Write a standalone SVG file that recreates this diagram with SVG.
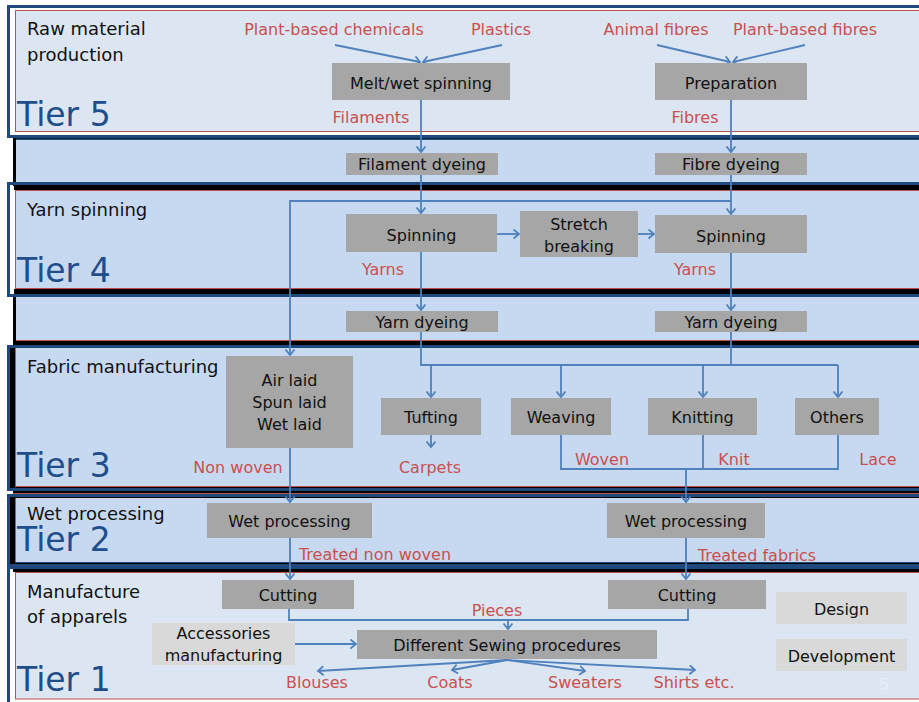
<svg xmlns="http://www.w3.org/2000/svg" width="919" height="702" viewBox="0 0 919 702">
<defs>
<style>
.node{fill:#a6a6a6}
.lnode{fill:#d9d9d9}
.t{font-family:"DejaVu Sans",Verdana,sans-serif;font-size:16px;fill:#111;text-anchor:middle}
.r{font-family:"DejaVu Sans",Verdana,sans-serif;font-size:16px;fill:#c9504f;text-anchor:middle}
.sec{font-family:"DejaVu Sans",Verdana,sans-serif;font-size:18px;fill:#111}
.tier{font-family:"DejaVu Sans",Verdana,sans-serif;font-size:33px;fill:#1f4e8c}
.c{fill:none;stroke:#4f81bd;stroke-width:1.8}
.a{marker-end:url(#arr)}
</style>
<marker id="arr" markerWidth="10" markerHeight="12" refX="6" refY="5" orient="auto" markerUnits="userSpaceOnUse">
<path d="M0.5,0.5 L6,5 L0.5,9.5" fill="none" stroke="#4f81bd" stroke-width="1.8"/>
</marker>
</defs>
<rect width="919" height="702" fill="#fff"/>
<g id="frames">
<!-- Tier 5 -->
<rect x="8.5" y="6.5" width="930" height="130" fill="#fff" stroke="#1f497d" stroke-width="3"/>
<rect x="15.5" y="10.5" width="920" height="121" fill="#dce6f2" stroke="#c0504d" stroke-width="1"/>
<!-- Band A -->
<rect x="13" y="138" width="925" height="52" fill="#000"/>
<rect x="16" y="138.5" width="920" height="1.5" fill="#1f497d"/>
<rect x="16" y="140" width="920" height="42" fill="#c6d9f1"/>
<!-- Tier 4 -->
<rect x="8.5" y="183.5" width="930" height="112" fill="none" stroke="#1f497d" stroke-width="3"/>
<rect x="10" y="186" width="4" height="102" fill="#fff"/>
<rect x="14" y="185" width="920" height="5" fill="#000"/>
<rect x="15.5" y="190.5" width="920" height="98" fill="#c6d9f1" stroke="#c0504d" stroke-width="1"/>
<rect x="14" y="289" width="920" height="5" fill="#000"/>
<!-- Band B -->
<rect x="13" y="297" width="925" height="49" fill="#000"/>
<rect x="16" y="297" width="920" height="43" fill="#c6d9f1"/>
<line x1="16" y1="340.5" x2="930" y2="340.5" stroke="#c0504d"/>
<!-- Tier 3 -->
<rect x="8.5" y="346.5" width="930" height="143" fill="#000" stroke="#1f497d" stroke-width="3"/>
<rect x="15" y="348" width="920" height="139" fill="#c6d9f1"/>
<line x1="15.5" y1="348" x2="15.5" y2="487" stroke="#c0504d"/>
<line x1="15" y1="486.5" x2="930" y2="486.5" stroke="#c0504d"/>
<rect x="13" y="491" width="925" height="4" fill="#000"/>
<line x1="13" y1="493.5" x2="930" y2="493.5" stroke="#c0504d"/>
<!-- Tier 2 -->
<rect x="8.5" y="495.5" width="930" height="70" fill="#000" stroke="#1f497d" stroke-width="3"/>
<rect x="15" y="498" width="920" height="64" fill="#c6d9f1"/>
<line x1="15.5" y1="498" x2="15.5" y2="562" stroke="#c0504d"/>
<line x1="15" y1="562.5" x2="930" y2="562.5" stroke="#1f497d"/>
<!-- Tier 1 -->
<rect x="8.5" y="567.5" width="930" height="140" fill="#fff" stroke="#1f497d" stroke-width="3"/>
<rect x="13" y="569" width="925" height="3" fill="#000"/>
<rect x="15.5" y="572.5" width="920" height="126.5" fill="#dce6f2" stroke="#c0504d" stroke-width="1"/>
</g>
<g id="tiers">
<text class="sec" x="27" y="35">Raw material</text>
<text class="sec" x="27" y="61">production</text>
<text class="tier" x="17" y="126">Tier 5</text>
<text class="sec" x="27" y="216">Yarn spinning</text>
<text class="tier" x="17" y="282">Tier 4</text>
<text class="sec" x="27" y="373">Fabric manufacturing</text>
<text class="tier" x="17" y="477">Tier 3</text>
<text class="sec" x="27" y="520">Wet processing</text>
<text class="tier" x="17" y="551">Tier 2</text>
<text class="sec" x="27" y="598">Manufacture</text>
<text class="sec" x="27" y="623">of apparels</text>
<text class="tier" x="17" y="691">Tier 1</text>
</g>
<g id="connectors">
<path class="c a" d="M335,45 L420,62"/>
<path class="c a" d="M502,45 L423,62"/>
<path class="c a" d="M657,45 L730,62"/>
<path class="c a" d="M805,45 L733,62"/>
<path class="c a" d="M421,100 V152"/>
<path class="c a" d="M731,100 V152"/>
<path class="c a" d="M421,175 V213"/>
<path class="c a" d="M731,175 V214"/>
<path class="c a" d="M731,201 H290 V355"/>
<path class="c a" d="M497,234 H519"/>
<path class="c a" d="M638,234 H654"/>
<path class="c a" d="M421,252 V310"/>
<path class="c a" d="M731,253 V310"/>
<path class="c" d="M421,332 V365 H838"/>
<path class="c" d="M731,332 V365"/>
<path class="c a" d="M431,365 V397"/>
<path class="c a" d="M561,365 V397"/>
<path class="c a" d="M703,365 V397"/>
<path class="c a" d="M838,365 V397"/>
<path class="c a" d="M431,435 V447"/>
<path class="c a" d="M290,448 V502"/>
<path class="c" d="M561,435 V469 H838 V435"/>
<path class="c" d="M703,435 V469"/>
<path class="c a" d="M686,469 V502"/>
<path class="c a" d="M290,538 V579"/>
<path class="c a" d="M686,538 V579"/>
<path class="c" d="M289,609 V620 H688 V609"/>
<path class="c a" d="M508,620 V629"/>
<path class="c a" d="M295,644 H356"/>
<path class="c a" d="M507,660 L318,671"/>
<path class="c a" d="M507,660 L452,670"/>
<path class="c a" d="M507,660 L585,671"/>
<path class="c a" d="M507,660 L695,670"/>
</g>
<g id="labels">
<text class="r" x="334" y="35">Plant-based chemicals</text>
<text class="r" x="501" y="35">Plastics</text>
<text class="r" x="656" y="35">Animal fibres</text>
<text class="r" x="805" y="35">Plant-based fibres</text>
<text class="r" x="371" y="123">Filaments</text>
<text class="r" x="695" y="123">Fibres</text>
<text class="r" x="383" y="275">Yarns</text>
<text class="r" x="695" y="275">Yarns</text>
<text class="r" x="238" y="473">Non woven</text>
<text class="r" x="430" y="473">Carpets</text>
<text class="r" x="602" y="465">Woven</text>
<text class="r" x="734" y="465">Knit</text>
<text class="r" x="878" y="465">Lace</text>
<text class="r" x="375" y="560">Treated non woven</text>
<text class="r" x="757" y="561">Treated fabrics</text>
<text class="r" x="497" y="616">Pieces</text>
<text class="r" x="317" y="688">Blouses</text>
<text class="r" x="450" y="688">Coats</text>
<text class="r" x="585" y="688">Sweaters</text>
<text class="r" x="694" y="688">Shirts etc.</text>
</g>
<g id="n-melt"><rect class="node" x="332" y="63" width="178" height="37"/><text class="t" x="421" y="89">Melt/wet spinning</text></g>
<g id="n-prep"><rect class="node" x="655" y="63" width="152" height="37"/><text class="t" x="731" y="89">Preparation</text></g>
<g id="n-fildye"><rect class="node" x="346" y="153" width="152" height="22"/><text class="t" x="422" y="170">Filament dyeing</text></g>
<g id="n-fibdye"><rect class="node" x="655" y="153" width="152" height="22"/><text class="t" x="731" y="170">Fibre dyeing</text></g>
<g id="n-spin1"><rect class="node" x="346" y="214" width="151" height="38"/><text class="t" x="421.5" y="241">Spinning</text></g>
<g id="n-stretch"><rect class="node" x="520" y="211" width="118" height="46"/><text class="t" x="579" y="230">Stretch</text><text class="t" x="579" y="252">breaking</text></g>
<g id="n-spin2"><rect class="node" x="655" y="215" width="152" height="38"/><text class="t" x="731" y="242">Spinning</text></g>
<g id="n-yarndye1"><rect class="node" x="346" y="311" width="152" height="21"/><text class="t" x="422" y="328">Yarn dyeing</text></g>
<g id="n-yarndye2"><rect class="node" x="655" y="311" width="152" height="21"/><text class="t" x="731" y="328">Yarn dyeing</text></g>
<g id="n-airlaid"><rect class="node" x="226" y="356" width="127" height="92"/><text class="t" x="289.5" y="386">Air laid</text><text class="t" x="289.5" y="408">Spun laid</text><text class="t" x="289.5" y="430">Wet laid</text></g>
<g id="n-tufting"><rect class="node" x="381" y="398" width="100" height="37"/><text class="t" x="431" y="423">Tufting</text></g>
<g id="n-weaving"><rect class="node" x="511" y="398" width="100" height="37"/><text class="t" x="561" y="423">Weaving</text></g>
<g id="n-knitting"><rect class="node" x="648" y="398" width="109" height="37"/><text class="t" x="702.5" y="423">Knitting</text></g>
<g id="n-others"><rect class="node" x="795" y="398" width="84" height="37"/><text class="t" x="837" y="423">Others</text></g>
<g id="n-wet1"><rect class="node" x="207" y="503" width="165" height="35"/><text class="t" x="289.5" y="527">Wet processing</text></g>
<g id="n-wet2"><rect class="node" x="607" y="503" width="158" height="35"/><text class="t" x="686" y="527">Wet processing</text></g>
<g id="n-cut1"><rect class="node" x="222" y="580" width="132" height="29"/><text class="t" x="288" y="601">Cutting</text></g>
<g id="n-cut2"><rect class="node" x="608" y="580" width="158" height="29"/><text class="t" x="687" y="601">Cutting</text></g>
<g id="n-access"><rect class="lnode" x="152" y="623" width="143" height="42"/><text class="t" x="223.5" y="639">Accessories</text><text class="t" x="223.5" y="661">manufacturing</text></g>
<g id="n-sewing"><rect class="node" x="357" y="630" width="300" height="29"/><text class="t" x="507" y="651">Different Sewing procedures</text></g>
<g id="n-design"><rect class="lnode" x="776" y="592" width="131" height="32"/><text class="t" x="841.5" y="615">Design</text></g>
<g id="n-dev"><rect class="lnode" x="776" y="639" width="131" height="32"/><text class="t" x="841.5" y="662">Development</text></g>
<text x="884" y="690" font-family="DejaVu Sans, sans-serif" font-size="16" fill="#e9eff7" text-anchor="middle">5</text>
</svg>
